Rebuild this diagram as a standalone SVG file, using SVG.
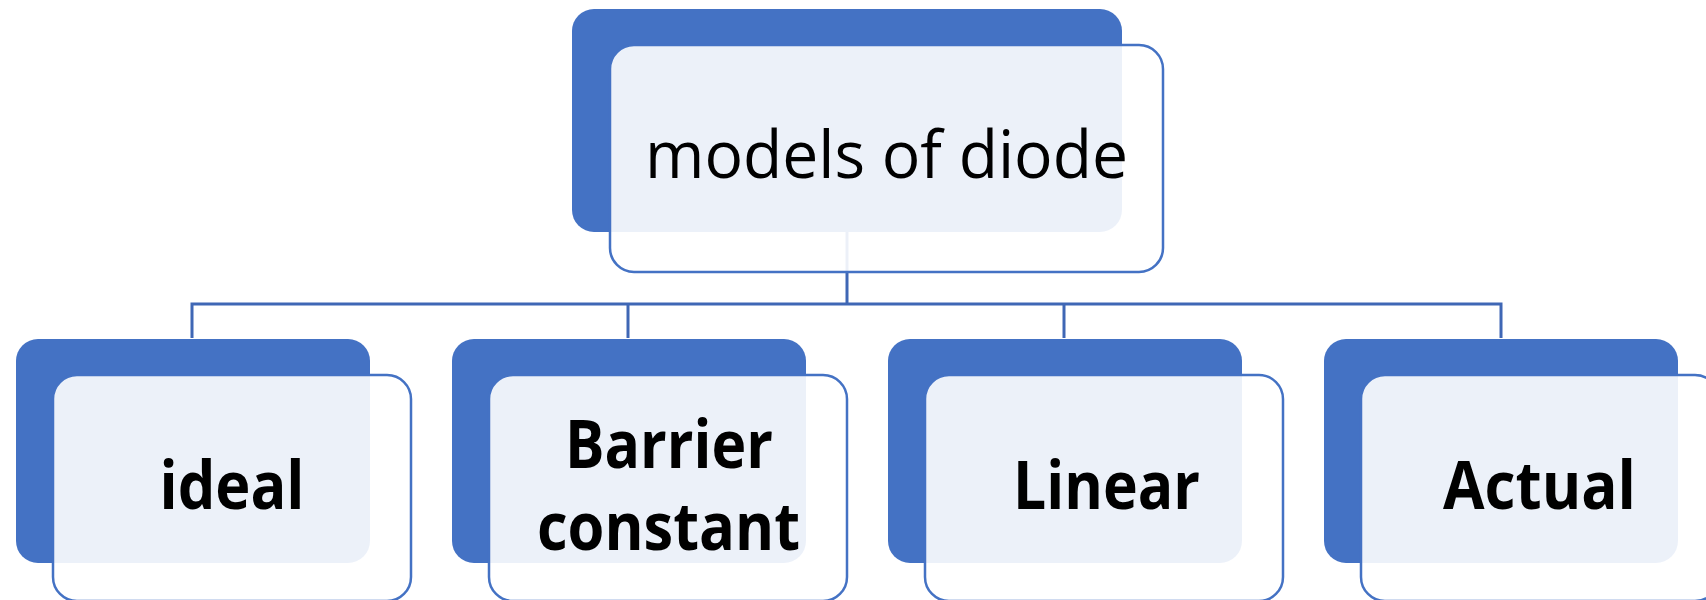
<svg xmlns="http://www.w3.org/2000/svg" width="1706" height="600" viewBox="0 0 1706 600">
<style>
.back{fill:#4472C4}
.front{fill:#FFFFFF;fill-opacity:0.9;stroke:#4472C4;stroke-width:2.5}
.conn{fill:none;stroke:#3F67B5;stroke-width:3}
.title{font-family:"Open Sans","Liberation Sans",sans-serif;font-size:66px;fill:#000;text-anchor:middle}
.lbl{font-family:"Open Sans","Liberation Sans",sans-serif;font-size:66px;font-weight:bold;fill:#000;text-anchor:middle}
</style>
<rect width="1706" height="600" fill="#FFFFFF"/>
<g id="connectors">
<path class="conn" d="M847 232 V304"/>
<path class="conn" d="M192 338 V304 H1501 V338"/>
<path class="conn" d="M628 304 V338"/>
<path class="conn" d="M1064 304 V338"/>
</g>
<g id="node-root">
<rect class="back" x="572" y="9" width="550" height="223" rx="22"/>
<rect class="front" x="610" y="45" width="553" height="227" rx="24"/>
<text class="title" x="886.5" y="178" textLength="483" lengthAdjust="spacingAndGlyphs">models of diode</text>
</g>
<g id="node-ideal">
<rect class="back" x="16" y="339" width="354" height="224" rx="22"/>
<rect class="front" x="53" y="375" width="358" height="226" rx="24"/>
<text class="lbl" x="232" y="509" textLength="145" lengthAdjust="spacingAndGlyphs">ideal</text>
</g>
<g id="node-barrier">
<rect class="back" x="452" y="339" width="354" height="224" rx="22"/>
<rect class="front" x="489" y="375" width="358" height="226" rx="24"/>
<text class="lbl" x="669" y="468" textLength="208" lengthAdjust="spacingAndGlyphs">Barrier</text>
<text class="lbl" x="668.5" y="550" textLength="263" lengthAdjust="spacingAndGlyphs">constant</text>
</g>
<g id="node-linear">
<rect class="back" x="888" y="339" width="354" height="224" rx="22"/>
<rect class="front" x="925" y="375" width="358" height="226" rx="24"/>
<text class="lbl" x="1106.5" y="509" textLength="187" lengthAdjust="spacingAndGlyphs">Linear</text>
</g>
<g id="node-actual">
<rect class="back" x="1324" y="339" width="354" height="224" rx="22"/>
<rect class="front" x="1361" y="375" width="358" height="226" rx="24"/>
<text class="lbl" x="1539.5" y="509" textLength="193" lengthAdjust="spacingAndGlyphs">Actual</text>
</g>
</svg>
